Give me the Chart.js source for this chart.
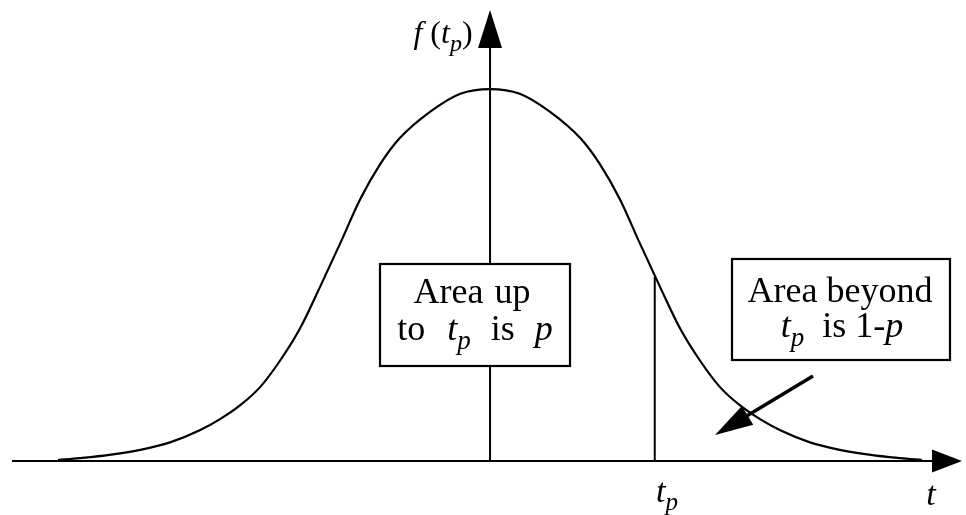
<!DOCTYPE html>
<html>
<head>
<meta charset="utf-8">
<script src="https://cdn.jsdelivr.net/npm/chart.js@4/dist/chart.umd.min.js"></script>
<style>
  html, body { margin: 0; padding: 0; background: #fff; }
  #wrap { width: 966px; height: 515px; }
</style>
</head>
<body>
<div id="wrap"><canvas id="chart" width="966" height="515"></canvas></div>
<script>
// values (t in sigma-ish units, f = density)
const tVals = [-3.20, -3.04, -2.82, -2.59, -2.37, -2.15, -2.00, -1.85, -1.70, -1.56, -1.41, -1.26, -1.11, -0.96, -0.81, -0.67, -0.44, -0.22,
  0, 0.22, 0.44, 0.67, 0.81, 0.96, 1.11, 1.26, 1.41, 1.56, 1.70, 1.85, 2.00, 2.15, 2.37, 2.59, 2.82, 3.04, 3.20];
const fVals = [0.001, 0.003, 0.0065, 0.012, 0.020, 0.033, 0.045, 0.060, 0.080, 0.107, 0.142, 0.187, 0.234, 0.282, 0.320, 0.347, 0.376, 0.395,
  0.400, 0.395, 0.376, 0.347, 0.320, 0.282, 0.234, 0.187, 0.142, 0.107, 0.080, 0.060, 0.045, 0.033, 0.020, 0.012, 0.0065, 0.003, 0.001];

// the t_p marker
const tpT = 1.22;
const tpF = 0.198;

const xMin = -3.541, xMax = 3.496;
const yMin = 0, yMax = 0.485;

const FONT = '"Liberation Serif", "Times New Roman", serif';

function drawRich(ctx, parts, cx, baseline, size) {
  // parts: [text, kind]  r = roman, i = italic, s = italic subscript, g = gap in px
  const fontFor = k => {
    if (k === 'r') return size + 'px ' + FONT;
    if (k === 'i') return 'italic ' + size + 'px ' + FONT;
    return 'italic ' + Math.round(size * 0.74) + 'px ' + FONT;
  };
  let widths = [];
  let total = 0;
  parts.forEach(p => {
    let w;
    if (p[1] === 'g') {
      w = p[0];
    } else {
      ctx.font = fontFor(p[1]);
      w = ctx.measureText(p[0]).width;
    }
    widths.push(w);
    total += w;
  });
  let x = cx - total / 2;
  ctx.textAlign = 'left';
  ctx.textBaseline = 'alphabetic';
  parts.forEach((p, i) => {
    if (p[1] !== 'g') {
      ctx.font = fontFor(p[1]);
      const dy = p[1] === 's' ? size * 0.24 : 0;
      ctx.fillText(p[0], x, baseline + dy);
    }
    x += widths[i];
  });
}

function arrowHead(ctx, tipX, tipY, dirX, dirY, len, half) {
  const l = Math.hypot(dirX, dirY);
  const ux = dirX / l, uy = dirY / l;
  const bx = tipX - ux * len, by = tipY - uy * len;
  ctx.beginPath();
  ctx.moveTo(tipX, tipY);
  ctx.lineTo(bx - uy * half, by + ux * half);
  ctx.lineTo(bx + uy * half, by - ux * half);
  ctx.closePath();
  ctx.fill();
}

const axesPlugin = {
  id: 'axesPlugin',
  beforeDatasetsDraw(chart) {
    const ctx = chart.ctx;
    const xs = chart.scales.x, ys = chart.scales.y;
    const x0 = xs.getPixelForValue(0);
    const y0 = ys.getPixelForValue(0);
    const left = xs.getPixelForValue(xMin);
    const right = xs.getPixelForValue(xMax);
    const top = ys.getPixelForValue(yMax);
    ctx.save();
    ctx.strokeStyle = '#000';
    ctx.fillStyle = '#000';
    ctx.lineWidth = 2;
    // horizontal axis
    ctx.beginPath();
    ctx.moveTo(left, y0);
    ctx.lineTo(right - 20, y0);
    ctx.stroke();
    arrowHead(ctx, right, y0, 1, 0, 30, 11.5);
    // vertical axis
    ctx.beginPath();
    ctx.moveTo(x0, y0);
    ctx.lineTo(x0, top + 30);
    ctx.stroke();
    arrowHead(ctx, x0, top, 0, -1, 38, 12);
    ctx.restore();
  },
  afterDatasetsDraw(chart) {
    const ctx = chart.ctx;
    ctx.save();
    ctx.fillStyle = '#000';
    ctx.strokeStyle = '#000';

    // boxes
    ctx.lineWidth = 2.2;
    [[380, 264, 190, 102], [732, 259, 218, 101]].forEach(b => {
      ctx.fillStyle = '#fff';
      ctx.fillRect(b[0], b[1], b[2], b[3]);
      ctx.strokeRect(b[0], b[1], b[2], b[3]);
    });
    ctx.fillStyle = '#000';

    drawRich(ctx, [['Area', 'r'], [11, 'g'], ['up', 'r']], 472, 303, 36);
    drawRich(ctx, [['to', 'r'], [22, 'g'], ['t', 'i'], ['p', 's'], [20, 'g'], ['is', 'r'], [20, 'g'], ['p', 'i']], 475, 340, 36);
    drawRich(ctx, [['Area beyond', 'r']], 840, 302, 36);
    drawRich(ctx, [['t', 'i'], ['p', 's'], [18, 'g'], ['is 1-', 'r'], ['p', 'i']], 842, 337, 36);

    // pointer arrow
    ctx.lineWidth = 3.5;
    ctx.beginPath();
    ctx.moveTo(813, 376);
    ctx.lineTo(740, 420);
    ctx.stroke();
    arrowHead(ctx, 715, 435, 715 - 813, 435 - 376, 38, 11);

    // axis labels
    drawRich(ctx, [['f', 'i'], [' (', 'r'], ['t', 'i'], ['p', 's'], [')', 'r']], 443, 43, 32);
    drawRich(ctx, [['t', 'i'], ['p', 's']], 667, 502, 34);
    drawRich(ctx, [['t', 'i']], 931, 505, 34);
    ctx.restore();
  }
};

const ctx = document.getElementById('chart').getContext('2d');
const chart = new Chart(ctx, {
  type: 'scatter',
  data: {
    datasets: [
      {
        data: tVals.map((t, i) => ({ x: t, y: fVals[i] })),
        showLine: true,
        borderColor: '#000',
        borderWidth: 2.2,
        pointRadius: 0,
        cubicInterpolationMode: 'monotone',
        fill: false
      },
      {
        data: [{ x: tpT, y: 0 }, { x: tpT, y: tpF }],
        showLine: true,
        borderColor: '#000',
        borderWidth: 2,
        pointRadius: 0
      }
    ]
  },
  options: {
    responsive: false,
    animation: false,
    layout: { padding: { left: 12, right: 4, top: 10, bottom: 54 } },
    plugins: { legend: { display: false }, tooltip: { enabled: false } },
    scales: {
      x: { type: 'linear', min: xMin, max: xMax, display: false },
      y: { type: 'linear', min: yMin, max: yMax, display: false }
    }
  },
  plugins: [axesPlugin]
});
</script>
</body>
</html>
